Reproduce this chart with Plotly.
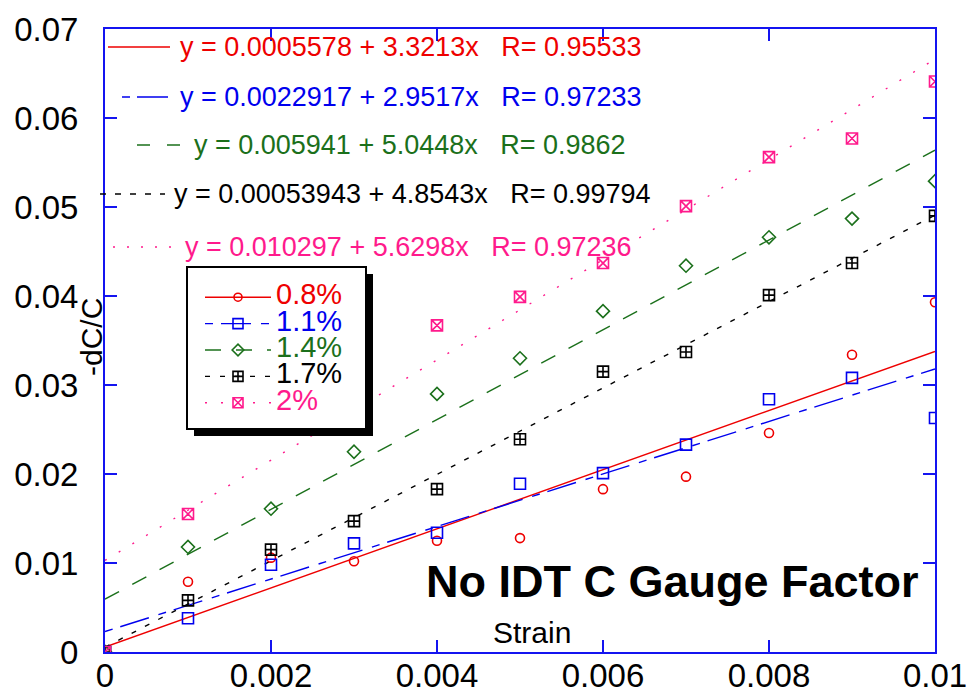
import plotly.graph_objects as go

# ---------------- data ----------------
strain = [0.0, 0.001, 0.002, 0.003, 0.004, 0.005, 0.006, 0.007, 0.008, 0.009, 0.010]
s08 = [0.0, 0.0079, 0.0106, 0.0102, 0.0125, 0.0128, 0.0183, 0.0197, 0.0246, 0.0334, 0.0393]
s11 = [0.0, 0.0038, 0.0098, 0.0122, 0.0134, 0.0189, 0.0201, 0.0233, 0.0284, 0.0308, 0.0263]
s14 = [0.0, 0.0118, 0.0161, 0.0225, 0.0290, 0.0330, 0.0383, 0.0434, 0.0466, 0.0487, 0.0529]
s17 = [0.0, 0.0058, 0.0115, 0.0147, 0.0183, 0.0239, 0.0315, 0.0337, 0.0401, 0.0437, 0.0490]
s20 = [0.0, 0.0155, 0.0262, 0.0334, 0.0367, 0.0399, 0.0437, 0.0501, 0.0556, 0.0577, 0.0641]

series_names = ["0.8%", "1.1%", "1.4%", "1.7%", "2%"]
intercepts = [0.0005578, 0.0022917, 0.005941, 0.00053943, 0.010297]
intercept_txt = ["0.0005578", "0.0022917", "0.005941", "0.00053943", "0.010297"]
slopes = [3.3213, 2.9517, 5.0448, 4.8543, 5.6298]
r_values = ["0.95533", "0.97233", "0.9862", "0.99794", "0.97236"]

x_ticks = [0, 0.002, 0.004, 0.006, 0.008, 0.01]
x_ticktext = ["0", "0.002", "0.004", "0.006", "0.008", "0.01"]
y_ticks = [0, 0.01, 0.02, 0.03, 0.04, 0.05, 0.06, 0.07]
y_ticktext = ["0", "0.01", "0.02", "0.03", "0.04", "0.05", "0.06", "0.07"]

# ---------------- styles ----------------
values = [s08, s11, s14, s17, s20]
colors = ["#ee0000", "#0000ee", "#1b701b", "#000000", "#ff1a8c"]
dashes = ["solid", "8px,8px,30px,10px", "16px,15px", "5px,10px", "2px,14px"]
symbols = ["circle-open", "square-open", "diamond-open", "square-cross-open", "square-x-open"]
msizes = [9, 11, 10, 11, 11]
FONT = "Liberation Sans, Arial, sans-serif"
AX = "#1414f0"

W, H = 969, 693
L, R, T, B = 105, 34, 29, 41
PW, PH = W - L - R, H - T - B


def px(x):
    return (x - L) / PW


def py(y):
    return (H - B - y) / PH


fig = go.Figure()

for i in range(5):
    xf = [strain[0], strain[-1]]
    yf = [intercepts[i] + slopes[i] * v for v in xf]
    fig.add_trace(go.Scatter(x=xf, y=yf, mode="lines", showlegend=False,
                             line=dict(color=colors[i], width=1.4, dash=dashes[i]),
                             hoverinfo="skip"))

for i in range(5):
    fig.add_trace(go.Scatter(x=strain, y=values[i], mode="markers", showlegend=False,
                             marker=dict(symbol=symbols[i], size=msizes[i], color=colors[i],
                                         line=dict(color=colors[i], width=1.6))))

for i in range(5):
    fig.add_trace(go.Scatter(
        x=[None], y=[None], mode="lines+markers",
        name=f"<span style='font-size:29px;color:{colors[i]}'>{series_names[i]}</span>",
        line=dict(color=colors[i], width=1.4, dash=dashes[i]),
        marker=dict(symbol=symbols[i], size=msizes[i] - 1, color=colors[i],
                    line=dict(color=colors[i], width=1.6))))

shapes = []
annotations = []

# equation keys at top
eq_y = [47, 97, 145, 194, 247]
eq_line = [(108, 170), (122, 168), (137, 181), (100, 165), (113, 176)]
eq_text_x = [178, 178, 192, 172, 183]
eq_dash = ["solid", "8px,7px,31px,5px", "13px,17px", "6px,9px", "2px,12px"]
for i in range(5):
    x0, x1 = eq_line[i]
    shapes.append(dict(type="line", xref="paper", yref="paper",
                       x0=px(x0), x1=px(x1), y0=py(eq_y[i]), y1=py(eq_y[i]),
                       line=dict(color=colors[i], width=1.4, dash=eq_dash[i])))
    txt = (f"y = {intercept_txt[i]} + {slopes[i]:.4f}x" + "\u00a0\u00a0\u00a0" +
           f"R= {r_values[i]}")
    annotations.append(dict(text=txt, xref="paper", yref="paper",
                            x=px(eq_text_x[i]), y=py(eq_y[i]), xanchor="left",
                            yanchor="middle", showarrow=False,
                            font=dict(family=FONT, size=27, color=colors[i])))

# legend box + shadow
shapes.append(dict(type="rect", xref="paper", yref="paper", layer="above",
                   x0=px(194), x1=px(373), y0=py(436), y1=py(274),
                   fillcolor="black", line=dict(width=0)))
shapes.append(dict(type="rect", xref="paper", yref="paper", layer="above",
                   x0=px(187), x1=px(366), y0=py(429), y1=py(267),
                   fillcolor="white", line=dict(color="black", width=2)))

annotations.append(dict(text="-dC/C", xref="paper", yref="paper", x=px(91), y=py(337),
                        xanchor="center", yanchor="middle", textangle=-90, showarrow=False,
                        font=dict(family=FONT, size=30, color="black")))
annotations.append(dict(text="Strain", xref="paper", yref="paper", x=px(532), y=py(632),
                        xanchor="center", yanchor="middle", showarrow=False,
                        font=dict(family=FONT, size=30, color="black")))
annotations.append(dict(text="<b>No IDT C Gauge Factor</b>", xref="paper", yref="paper",
                        x=px(921), y=py(581), xanchor="right", yanchor="middle",
                        showarrow=False, font=dict(family=FONT, size=45, color="black")))

axis_common = dict(showline=True, linecolor=AX, linewidth=2, mirror="ticks",
                   ticks="inside", ticklen=12, tickwidth=2, tickcolor=AX,
                   showgrid=False, zeroline=False, automargin=False,
                   tickfont=dict(family=FONT, size=33, color="black"))

fig.update_layout(
    width=W, height=H,
    margin=dict(l=L, r=R, t=T, b=B, autoexpand=False),
    paper_bgcolor="white", plot_bgcolor="white",
    xaxis=dict(range=[0, 0.01], tickvals=x_ticks, ticktext=x_ticktext,
               ticklabelstandoff=-7, **axis_common),
    yaxis=dict(range=[0, 0.07], tickvals=y_ticks, ticktext=y_ticktext,
               ticklabelstandoff=18, **axis_common),
    showlegend=True,
    legend=dict(x=px(200), y=py(279), xanchor="left", yanchor="top",
                bgcolor="rgba(0,0,0,0)", borderwidth=0, tracegroupgap=0,
                itemwidth=66, font=dict(family=FONT, size=18, color="black")),
    shapes=shapes, annotations=annotations,
)

fig.write_html("out.html", config={"displayModeBar": False},
               post_script="document.body.style.margin='0px';"
                           "document.body.style.overflow='hidden';")
